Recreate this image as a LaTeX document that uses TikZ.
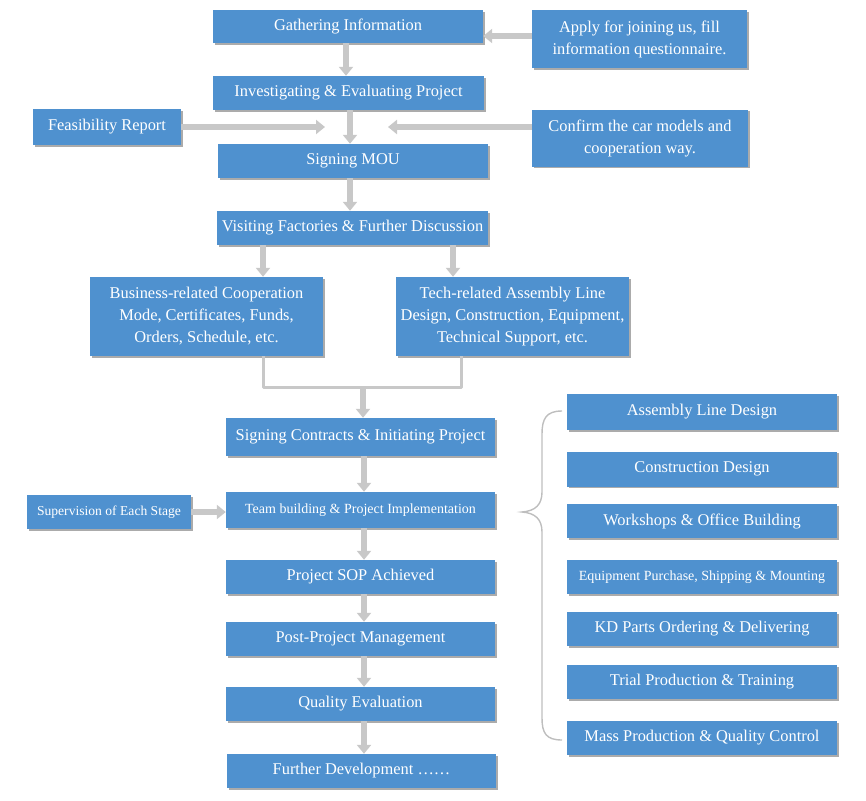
\documentclass[tikz,border=0pt]{standalone}
\usepackage{fontspec}
\setmainfont{Liberation Serif}
\usetikzlibrary{arrows.meta,shadows}
\definecolor{boxblue}{RGB}{79,145,207}
\definecolor{arrgray}{RGB}{200,200,200}
\definecolor{shgray}{RGB}{150,150,150}
\definecolor{bracegray}{RGB}{190,190,190}
\tikzset{
  box/.style={fill=boxblue, text=white, align=center, inner sep=0pt,
    font=\fontsize{16.4}{22}\selectfont,
    drop shadow={shadow xshift=1.5pt, shadow yshift=-1.8pt, fill=shgray, opacity=0.8}},
  smalltext/.style={font=\fontsize{14}{18}\selectfont},
  tinytext/.style={font=\fontsize{13.6}{18}\selectfont},
  garrow/.style={draw=arrgray, line width=5.5pt, -{Triangle[width=14pt,length=9pt]}},
  gline/.style={draw=arrgray, line width=3pt},
}
\begin{document}
\begin{tikzpicture}[x=1pt,y=-1pt]
\useasboundingbox (0,0) rectangle (866,800);
% main column
\node[box, minimum width=270pt, minimum height=33pt] (gath) at (348,26.5) {Gathering Information};
\node[box, minimum width=215pt, minimum height=58pt] (apply) at (639.5,39) {Apply for joining us, fill\\information questionnaire.};
\node[box, minimum width=271pt, minimum height=34pt] (inv) at (348.5,93) {Investigating \& Evaluating Project};
\node[box, minimum width=148pt, minimum height=36pt] (feas) at (107,127) {Feasibility Report};
\node[box, minimum width=216pt, minimum height=57pt] (conf) at (640,138) {Confirm the car models and\\cooperation way.};
\node[box, minimum width=270pt, minimum height=34pt] (mou) at (353,161) {Signing MOU};
\node[box, minimum width=271pt, minimum height=34pt] (visit) at (352.5,228) {Visiting Factories \& Further Discussion};
\node[box, minimum width=233pt, minimum height=79pt] (bus) at (206.5,316.5) {Business-related Cooperation\\Mode, Certificates, Funds,\\Orders, Schedule, etc.};
\node[box, minimum width=233pt, minimum height=79pt] (tech) at (512.5,316.5) {Tech-related Assembly Line\\Design, Construction, Equipment,\\Technical Support, etc.};
\node[box, minimum width=269pt, minimum height=38pt] (sc) at (360.5,437) {Signing Contracts \& Initiating Project};
\node[box, smalltext, minimum width=269pt, minimum height=36pt] (team) at (360.5,510) {Team building \& Project Implementation};
\node[box, tinytext, minimum width=164pt, minimum height=34pt] (sup) at (109,512) {Supervision of Each Stage};
\node[box, minimum width=269pt, minimum height=34pt] (sop) at (360.5,577) {Project SOP Achieved};
\node[box, minimum width=269pt, minimum height=34pt] (post) at (360.5,639) {Post-Project Management};
\node[box, minimum width=269pt, minimum height=34pt] (qe) at (360.5,704) {Quality Evaluation};
\node[box, minimum width=269pt, minimum height=34pt] (fd) at (361.5,771) {Further Development \ldots\ldots};
% right column
\node[box, minimum width=270pt, minimum height=36pt] (r1) at (702,412) {Assembly Line Design};
\node[box, minimum width=270pt, minimum height=35pt] (r2) at (702,469) {Construction Design};
\node[box, minimum width=270pt, minimum height=34pt] (r3) at (702,521) {Workshops \& Office Building};
\node[box, smalltext, minimum width=270pt, minimum height=34pt] (r4) at (702,577) {Equipment Purchase, Shipping \& Mounting};
\node[box, minimum width=270pt, minimum height=34pt] (r5) at (702,629) {KD Parts Ordering \& Delivering};
\node[box, minimum width=270pt, minimum height=34pt] (r6) at (702,682) {Trial Production \& Training};
\node[box, minimum width=270pt, minimum height=34pt] (r7) at (702,738) {Mass Production \& Quality Control};
% helper coordinates
\coordinate (fe) at (325,127);
\coordinate (ce) at (388,127);
\coordinate (mL) at (263,387);
\coordinate (mR) at (461,387);
\coordinate (mC) at (363,387);
% arrows
\draw[garrow] (apply.west |- 0,36) -- (gath.east |- 0,36);
\draw[garrow] (gath.south -| 346,0) -- (inv.north -| 346,0);
\draw[garrow] (inv.south -| 350,0) -- (mou.north -| 350,0);
\draw[garrow] (feas.east) -- (fe);
\draw[garrow] (conf.west |- ce) -- (ce);
\draw[garrow] (mou.south -| 350,0) -- (visit.north -| 350,0);
\draw[garrow] (visit.south -| mL) -- (bus.north -| mL);
\draw[garrow] (visit.south -| 453,0) -- (tech.north -| 453,0);
\draw[gline, line join=round] (bus.south -| mL) -- (mL) -- (mR) -- (tech.south -| mR);
\draw[garrow] (mC) -- (sc.north -| mC);
\draw[garrow] (sc.south -| 364,0) -- (team.north -| 364,0);
\draw[garrow] (sup.east) -- (team.west |- sup.east);
\draw[garrow] (team.south -| 364,0) -- (sop.north -| 364,0);
\draw[garrow] (sop.south -| 364,0) -- (post.north -| 364,0);
\draw[garrow] (post.south -| 364,0) -- (qe.north -| 364,0);
\draw[garrow] (qe.south -| 364,0) -- (fd.north -| 364,0);
% brace
\draw[bracegray, line width=1.4pt] (562,411) .. controls (546,411) and (542,419) .. (542,434) -- (542,492) .. controls (542,505) and (535,511) .. (522,512) .. controls (535,513) and (542,519) .. (542,532) -- (542,718) .. controls (542,733) and (546,740) .. (562,740);
\end{tikzpicture}
\end{document}
